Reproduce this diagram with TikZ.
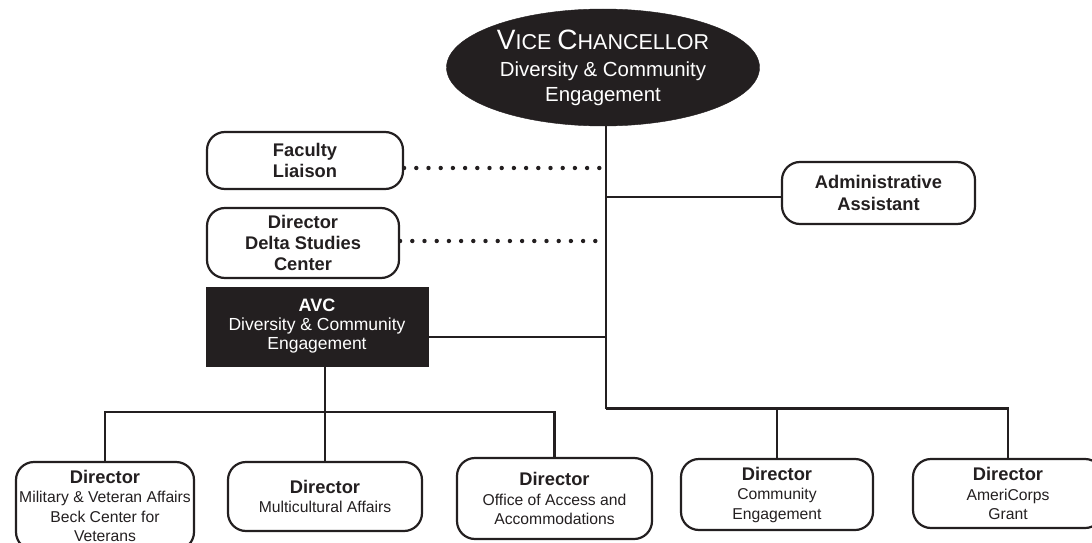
\documentclass[tikz,border=0pt]{standalone}
\usepackage{fontspec}
\setmainfont{Liberation Sans}
\usetikzlibrary{shapes.geometric}
\definecolor{ink}{RGB}{35,31,32}
\newcommand\dirline{{\bfseries\fontsize{18.3}{19.5}\selectfont Director}}
\begin{document}
\begin{tikzpicture}[x=1pt,y=-1pt,
  box/.style={draw=ink, line width=2.2pt, rounded corners=18pt, align=center, inner sep=0pt, text=ink},
  boldtxt/.style={font=\bfseries\fontsize{18.3}{21.3}\selectfont},
  regtxt/.style={font=\fontsize{15.7}{19.5}\selectfont},
  conn/.style={draw=ink, line width=2.2pt},
  dotline/.style={draw=ink, line width=4.4pt, line cap=round, dash pattern=on 0pt off 12.2pt},
]
\useasboundingbox (0,0) rectangle (1092,543);

% top ellipse
\node[ellipse, fill=ink, draw=ink, minimum width=313pt, minimum height=117pt, inner sep=0pt,
      text=white, align=center, font=\fontsize{20.4}{24.4}\selectfont] (vc) at (603,67.5)
  {{\fontsize{28}{27}\selectfont V\fontsize{21.5}{27}\selectfont ICE \fontsize{28}{27}\selectfont C\fontsize{21.5}{27}\selectfont HANCELLOR}\\[3pt]
   Diversity \& Community\\Engagement};

% side boxes
\node[box, boldtxt, minimum width=196pt, minimum height=57pt] (fac) at (305,160.5) {Faculty\\Liaison};
\node[box, boldtxt, minimum width=192pt, minimum height=70pt] (delta) at (303,243) {Director\\Delta Studies\\Center};
\node[box, boldtxt, minimum width=193pt, minimum height=62pt] (admin) at (878.5,193) {Administrative\\Assistant};

% AVC box
\node[fill=ink, draw=ink, minimum width=222pt, minimum height=79pt, inner sep=0pt, text=white,
      align=center, font=\fontsize{17.5}{19}\selectfont] (avc) at (317,326.5)
  {{\bfseries\fontsize{18}{19}\selectfont AVC}\\Diversity \& Community\\Engagement};

% bottom boxes
\node[box, regtxt, minimum width=178pt, minimum height=88pt] (mil) at (105,506)
  {\dirline\\Military \& Veteran Affairs\\Beck Center for\\Veterans};
\node[box, regtxt, minimum width=194pt, minimum height=69pt] (multi) at (325,496.5)
  {\dirline\\Multicultural Affairs};
\node[box, regtxt, minimum width=195pt, minimum height=81pt] (off) at (554.5,498.5)
  {\dirline\\Office of Access and\\Accommodations};
\node[box, regtxt, minimum width=192pt, minimum height=71pt] (comm) at (777,494.5)
  {\dirline\\Community\\Engagement};
\node[box, regtxt, minimum width=190pt, minimum height=69pt] (amer) at (1008,493.5)
  {\dirline\\AmeriCorps\\Grant};

% trunk coordinates
\coordinate (t1) at (606,168);
\coordinate (t2) at (606,241);
\coordinate (t3) at (606,197);
\coordinate (t4) at (606,337);
\coordinate (tb) at (606,408.5);
\coordinate (lb) at (0,412);

% connectors
\draw[conn] (vc.south -| tb) -- (tb);
\draw[dotline] (fac.east |- t1) -- (t1);
\draw[dotline] (delta.east |- t2) -- (t2);
\draw[conn] (t3) -- (t3 -| admin.west);
\draw[conn] (avc.east |- t4) -- (t4);
\draw[conn] (tb) -| (amer.north);
\draw[conn] (comm.north) -- (comm.north |- tb);
\draw[conn] (multi.north) -- (multi.north |- avc.south);
\draw[conn] (mil.north) -- (mil.north |- lb) -- (off.north |- lb) -- (off.north);
\end{tikzpicture}
\end{document}
